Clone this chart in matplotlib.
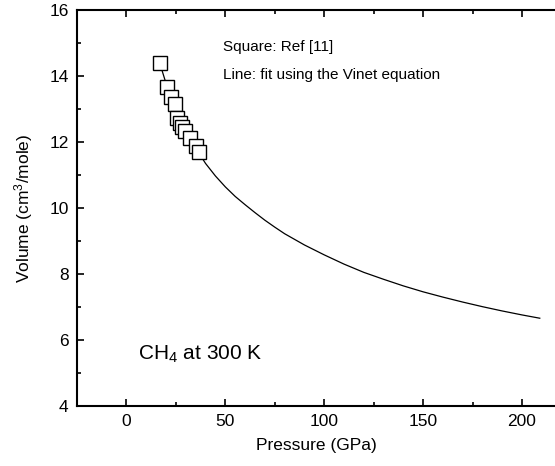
import matplotlib
matplotlib.use("Agg")
import matplotlib.pyplot as plt
from matplotlib.ticker import MultipleLocator

plt.rcParams['font.family'] = ['Liberation Sans', 'DejaVu Sans']
plt.rcParams['mathtext.fontset'] = 'custom'
plt.rcParams['mathtext.rm'] = 'Liberation Sans'
plt.rcParams['mathtext.it'] = 'Liberation Sans:italic'
plt.rcParams['mathtext.default'] = 'regular'

# Experimental data (squares, Ref [11])
p_data = [16.8, 20.7, 22.7, 24.7, 25.8, 27.3, 28.3, 29.8, 32.3, 35.4, 36.9]
v_data = [14.40, 13.67, 13.36, 13.15, 12.73, 12.58, 12.45, 12.33, 12.12, 11.88, 11.70]

# Vinet fit line
p_fit = [16.8, 20, 25, 30, 35, 40, 45, 50, 55, 60, 65, 70, 75, 80, 90, 100,
         110, 120, 130, 140, 150, 160, 170, 180, 190, 200, 209]
v_fit = [14.40, 13.78, 12.98, 12.34, 11.82, 11.35, 10.97, 10.64, 10.35, 10.10, 9.86,
         9.63, 9.42, 9.22, 8.88, 8.58, 8.30, 8.05, 7.84, 7.64, 7.46, 7.30, 7.15,
         7.01, 6.88, 6.76, 6.66]

fig = plt.figure(figsize=(5.55, 4.66), dpi=100)
ax = fig.add_axes([77/555, 1 - 406/466, 1 - 77/555, (406 - 10)/466])

ax.plot(p_fit, v_fit, color='black', lw=0.9, zorder=2)
ax.plot(p_data, v_data, linestyle='none', marker='s', markersize=10,
        markerfacecolor='white', markeredgecolor='black', markeredgewidth=1.0, zorder=3)

ax.set_xlim(-25, 216.7)
ax.set_ylim(4, 16)
ax.xaxis.set_major_locator(MultipleLocator(50))
ax.xaxis.set_minor_locator(MultipleLocator(25))
ax.yaxis.set_major_locator(MultipleLocator(2))
ax.yaxis.set_minor_locator(MultipleLocator(1))

ax.tick_params(which='both', direction='in', top=True, right=False, width=1.2, labelsize=12.5, pad=6)
ax.tick_params(which='major', length=5)
ax.tick_params(which='minor', length=3)

for s in ['left', 'bottom', 'top']:
    ax.spines[s].set_linewidth(1.5)
ax.spines['right'].set_visible(False)

ax.set_xlabel('Pressure (GPa)', fontsize=12.5, labelpad=6)
ax.set_ylabel('Volume (cm$^3$/mole)', fontsize=12.5, labelpad=10)

ax.text(49, 14.88, 'Square: Ref [11]', fontsize=11, va='center', ha='left')
ax.text(49, 14.03, 'Line: fit using the Vinet equation', fontsize=11, va='center', ha='left')
ax.text(6, 5.55, 'CH$_4$ at 300 K', fontsize=15, va='center', ha='left')

fig.savefig('out.png', dpi=100)
